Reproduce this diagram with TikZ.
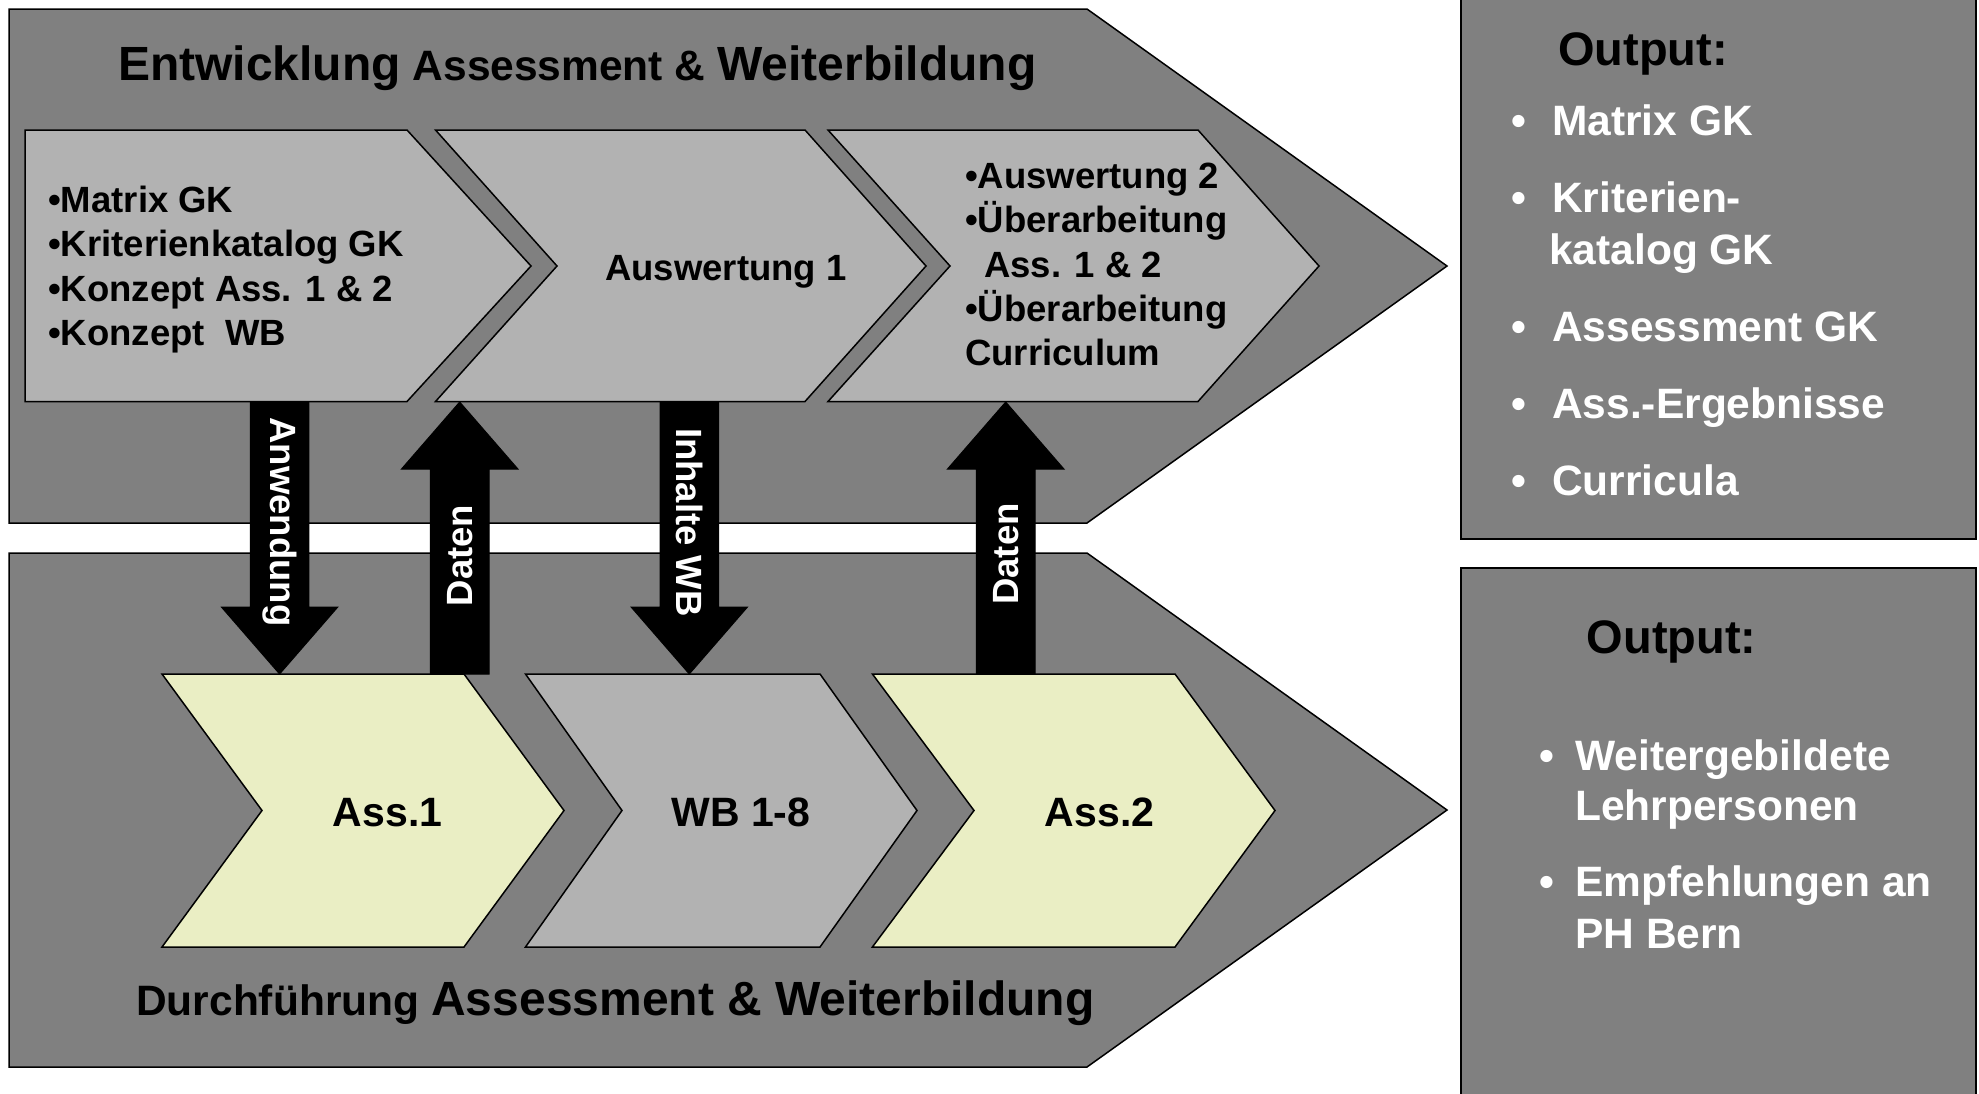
\documentclass[tikz,border=0pt]{standalone}
\usepackage{fontspec}
\setmainfont{Liberation Sans}
\usetikzlibrary{calc}
\definecolor{bigc}{RGB}{128,128,128}
\definecolor{lightc}{RGB}{178,178,178}
\definecolor{yelc}{RGB}{234,238,196}
\newcommand\fsz[1]{\fontsize{#1}{#1}\selectfont\bfseries}
% block arrow pointing down: #1 start (top), #2 tip
\newcommand\blkdown[2]{%
  \filldraw[blockarrow] ($(#1)+(-29.3,0)$) -- ($(#1)+(29.3,0)$) -- ($(#2)+(29.3,-67)$) -- ($(#2)+(58.2,-67)$) -- (#2) -- ($(#2)+(-58.2,-67)$) -- ($(#2)+(-29.3,-67)$) -- cycle;}
% block arrow pointing up: #1 start (bottom), #2 tip
\newcommand\blkup[2]{%
  \filldraw[blockarrow] ($(#1)+(-29.3,0)$) -- ($(#1)+(29.3,0)$) -- ($(#2)+(29.3,67)$) -- ($(#2)+(58.2,67)$) -- (#2) -- ($(#2)+(-58.2,67)$) -- ($(#2)+(-29.3,67)$) -- cycle;}
\tikzset{
  bigchev/.style={fill=bigc, draw=black, line width=1.5pt, line join=miter},
  procchev/.style={fill=lightc, draw=black, line width=1.5pt},
  asschev/.style={fill=yelc, draw=black, line width=1.5pt},
  outbox/.style={fill=bigc, draw=black, line width=1.5pt},
  blockarrow/.style={fill=black, draw=black, line width=1pt},
  arrowlbl/.style={text=white, inner sep=0pt, font=\fsz{36.5}},
  proctxt/.style={inner sep=0pt, anchor=base west, font=\fsz{36.5}},
  asstxt/.style={inner sep=0pt, anchor=base, font=\fsz{41}},
  outhead/.style={inner sep=0pt, anchor=base west, font=\fsz{47}},
  outtxt/.style={inner sep=0pt, anchor=base west, text=white, font=\fsz{42.5}},
  outbul/.style={inner sep=0pt, anchor=base, text=white, font=\fsz{42.5}},
  titletxt/.style={inner sep=0pt, anchor=base west, font=\fsz{42.5}},
}
\begin{document}
\begin{tikzpicture}[x=1pt,y=-1pt]
\useasboundingbox (0,0) rectangle (1979,1093);
\fill[white] (0,0) rectangle (1979,1093);

% big phase chevrons
\draw[bigchev] (9,9) -- (1087,9) -- (1447,266) -- (1087,523) -- (9,523) -- cycle;
\draw[bigchev] (9,553) -- (1087,553) -- (1447,810) -- (1087,1067) -- (9,1067) -- cycle;

% output boxes
\draw[outbox] (1461,-5) rectangle (1976,539);
\draw[outbox] (1461,568) rectangle (1976,1100);

% upper process chevrons
\draw[procchev] (25,130) -- (407,130) -- (531,266) -- (407,401.5) -- (25,401.5) -- cycle;
\draw[procchev] (435.5,130) -- (805,130) -- (926,266) -- (805,401.5) -- (435.5,401.5) -- (557,266) -- cycle;
\draw[procchev] (828,130) -- (1198,130) -- (1319,266) -- (1198,401.5) -- (828,401.5) -- (950,266) -- cycle;

% lower process chevrons
\draw[asschev] (162,674) -- (464,674) -- (564,810.5) -- (464,947) -- (162,947) -- (262,810.5) -- cycle;
\draw[procchev] (525.5,674) -- (820,674) -- (917,810.5) -- (820,947) -- (525.5,947) -- (622,810.5) -- cycle;
\draw[asschev] (872.4,674) -- (1175,674) -- (1275,810.5) -- (1175,947) -- (872.4,947) -- (974,810.5) -- cycle;

% titles
\node[titletxt] (toptitle) at (118,80) {{\fsz{48}Entwicklung} Assessment \& {\fsz{48}Weiterbildung}};
\node[titletxt] (bottitle) at (136,1015) {Durchführung {\fsz{48}Assessment \& Weiterbildung}};

% chevron 1 text
\node[proctxt] (c1a) at (48,212) {•Matrix GK};
\node[proctxt] (c1b) at (48,256.5) {•Kriterienkatalog GK};
\node[proctxt] (c1c) at (48,301) {•Konzept Ass. 1 \& 2};
\node[proctxt] (c1d) at (48,345.5) {•Konzept\ \ WB};

% chevron 2 text
\node[proctxt, anchor=base] (c2a) at (726,280) {Auswertung 1};

% chevron 3 text
\node[proctxt] (c3a) at (965,188) {•Auswertung 2};
\node[proctxt] (c3b) at (965,232) {•Überarbeitung};
\node[proctxt] (c3c) at (984,277) {Ass. 1 \& 2};
\node[proctxt] (c3d) at (965,321) {•Überarbeitung};
\node[proctxt] (c3e) at (965,365) {Curriculum};

% lower chevron texts
\node[asstxt] (ass1) at (387.6,826) {Ass.1};
\node[asstxt] (wb) at (741,826) {WB 1-8};
\node[asstxt] (ass2) at (1099.6,826) {Ass.2};

% output box 1
\node[outhead] (out1) at (1558,65) {Output:};
\node[outbul] (o1b1) at (1519,135) {•};
\node[outtxt] (o1t1) at (1552,135) {Matrix GK};
\node[outbul] (o1b2) at (1519,212.7) {•};
\node[outtxt] (o1t2) at (1552,212.7) {Kriterien-};
\node[outtxt] (o1t2b) at (1549,264.3) {katalog GK};
\node[outbul] (o1b3) at (1519,341.7) {•};
\node[outtxt] (o1t3) at (1552,341.7) {Assessment GK};
\node[outbul] (o1b4) at (1519,418.3) {•};
\node[outtxt] (o1t4) at (1552,418.3) {Ass.-Ergebnisse};
\node[outbul] (o1b5) at (1519,495) {•};
\node[outtxt] (o1t5) at (1552,495) {Curricula};

% output box 2
\node[outhead] (out2) at (1586.7,653.3) {Output:};
\node[outbul] (o2b1) at (1546.7,770) {•};
\node[outtxt] (o2t1) at (1575,770) {Weitergebildete};
\node[outtxt] (o2t1b) at (1575,820) {Lehrpersonen};
\node[outbul] (o2b2) at (1546.7,896.7) {•};
\node[outtxt] (o2t2) at (1575,896.7) {Empfehlungen an};
\node[outtxt] (o2t2b) at (1575,948.3) {PH Bern};

% connector end points
\coordinate (c1out) at (279.6,401.5);
\coordinate (ass1in) at (279.6,674);
\coordinate (ass1out) at (459.7,674);
\coordinate (c2in) at (459.7,402);
\coordinate (c2out) at (689.3,401.5);
\coordinate (wbin) at (689.3,674);
\coordinate (ass2out) at (1005.7,674);
\coordinate (c3in) at (1005.7,402);

% block arrows
\blkdown{c1out}{ass1in}
\blkup{ass1out}{c2in}
\blkdown{c2out}{wbin}
\blkup{ass2out}{c3in}

% arrow labels
\node[arrowlbl, rotate=-90] (lblanw) at (279.6,522) {Anwendung};
\node[arrowlbl, rotate=90] (lbldat1) at (459.7,555.5) {Daten};
\node[arrowlbl, rotate=-90] (lblinh) at (689.3,522.5) {Inhalte WB};
\node[arrowlbl, rotate=90] (lbldat2) at (1005.7,554) {Daten};
\end{tikzpicture}
\end{document}
